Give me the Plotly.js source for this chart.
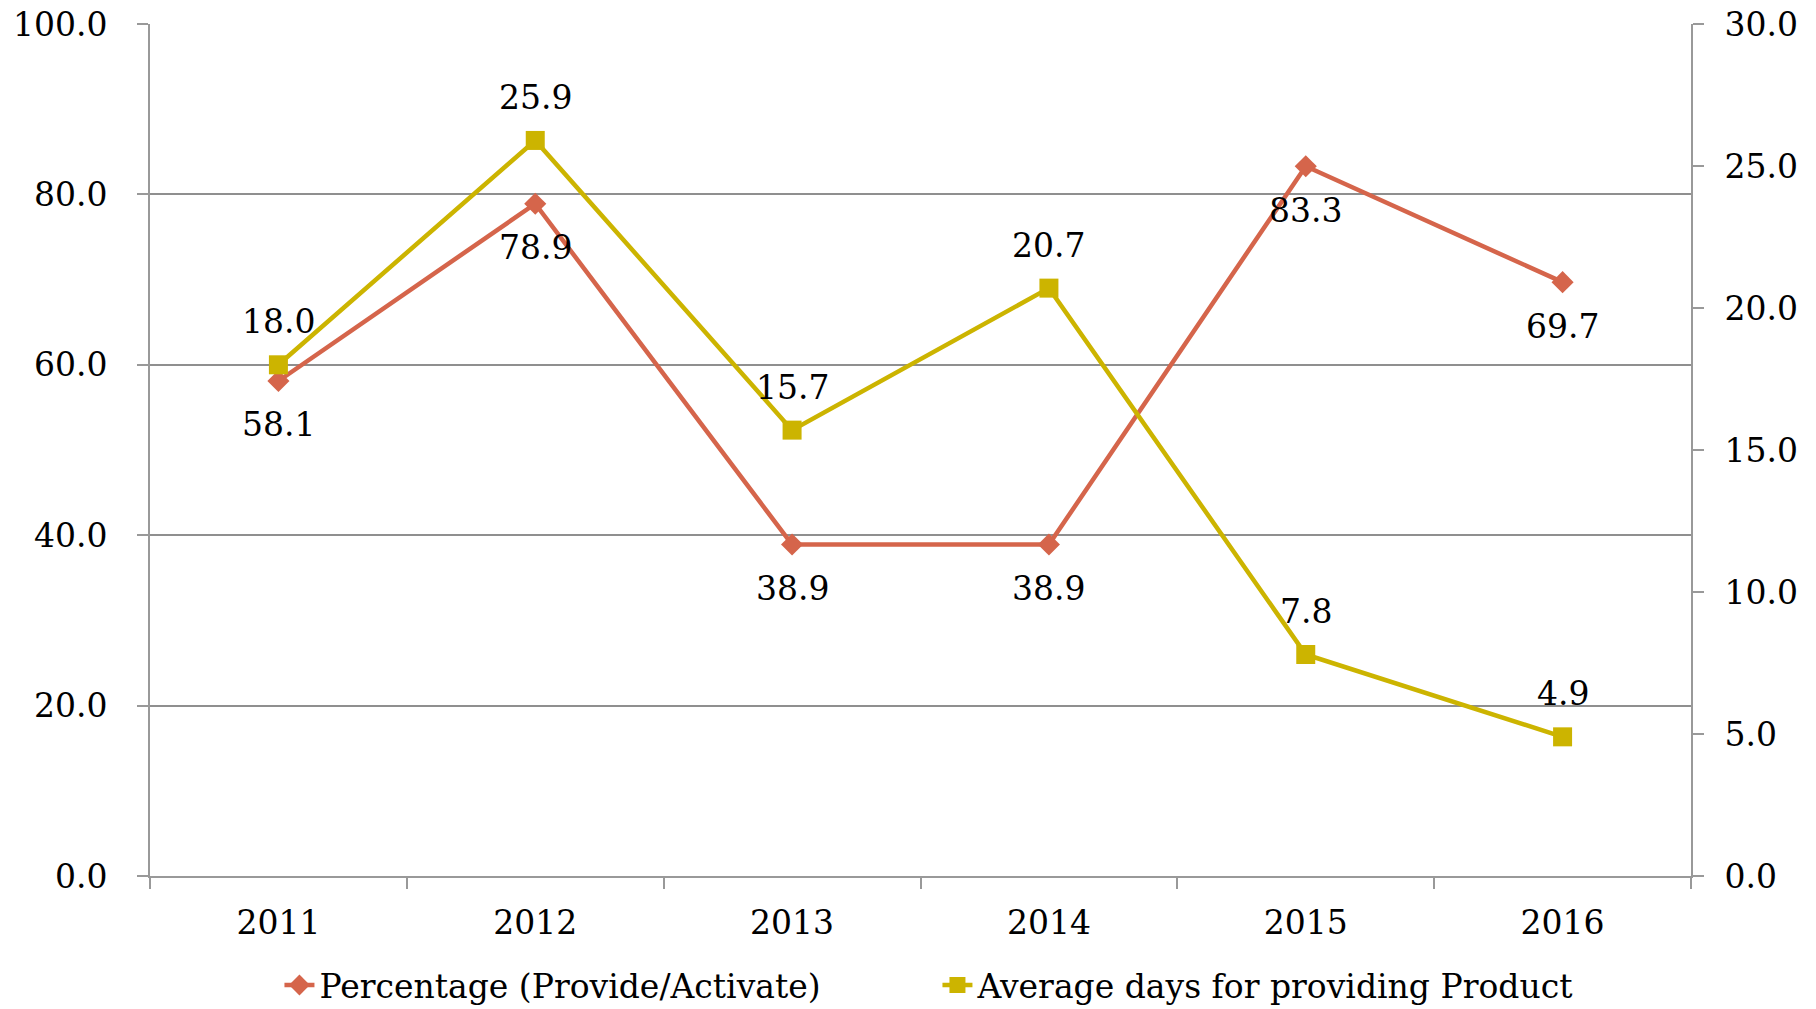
<!DOCTYPE html>
<html>
<head>
<meta charset="utf-8">
<script src="https://cdn.plot.ly/plotly-3.0.1.min.js"></script>
<style>html,body{margin:0;padding:0;background:#fff;}#chart{width:1816px;height:1009px;}</style>
</head>
<body>
<div id="chart"></div>
<script>
const years = ["2011", "2012", "2013", "2014", "2015", "2016"];
const percentage = [58.1, 78.9, 38.9, 38.9, 83.3, 69.7];
const avgDays = [18.0, 25.9, 15.7, 20.7, 7.8, 4.9];
const seriesNames = ["Percentage (Provide/Activate)", "Average days for providing Product"];

const RED = "#d5654b";
const YEL = "#ccb400";
const FONT = "DejaVu Serif";
const FS = 33;

const traces = [
  {
    x: years, y: percentage, name: seriesNames[0], type: "scatter", mode: "lines+markers",
    line: {color: RED, width: 4.5}, marker: {symbol: "diamond", size: 17, color: RED},
    yaxis: "y", cliponaxis: false
  },
  {
    x: years, y: avgDays, name: seriesNames[1], type: "scatter", mode: "lines+markers",
    line: {color: YEL, width: 4.5}, marker: {symbol: "square", size: 19, color: YEL},
    yaxis: "y2", cliponaxis: false
  }
];

const annotations = [];
years.forEach((yr, i) => {
  annotations.push({x: i, y: percentage[i], xref: "x", yref: "y", text: percentage[i].toFixed(1),
    showarrow: false, yshift: -44, font: {family: FONT, size: FS, color: "#000"}});
  annotations.push({x: i, y: avgDays[i], xref: "x", yref: "y2", text: avgDays[i].toFixed(1),
    showarrow: false, yshift: 43, font: {family: FONT, size: FS, color: "#000"}});
});

const layout = {
  width: 1816, height: 1009,
  margin: {l: 150, r: 125, t: 24, b: 133, autoexpand: false},
  paper_bgcolor: "#fff", plot_bgcolor: "#fff",
  font: {family: FONT, size: FS, color: "#000"},
  showlegend: true,
  legend: {orientation: "h", x: 0.511, xanchor: "center", y: -0.128, yanchor: "middle",
    entrywidth: 613, entrywidthmode: "pixels",
    font: {family: FONT, size: FS, color: "#000"}, bgcolor: "rgba(0,0,0,0)"},
  xaxis: {
    type: "category", range: [-0.5, 5.5], tickson: "boundaries",
    ticks: "outside", ticklen: 11, tickcolor: "#999", tickwidth: 1.5,
    showline: true, linecolor: "#999", linewidth: 2, showgrid: false, zeroline: false,
    tickfont: {family: FONT, size: FS}, ticklabelstandoff: 16
  },
  yaxis: {
    range: [0, 100], dtick: 20, tickformat: ".1f",
    ticks: "outside", ticklen: 11, tickcolor: "#999", tickwidth: 1.5,
    showline: true, linecolor: "#999", linewidth: 2,
    showgrid: true, gridcolor: "#8f8f8f", gridwidth: 1.5, zeroline: false,
    tickfont: {family: FONT, size: FS}, ticklabelstandoff: 23
  },
  yaxis2: {
    range: [0, 30], dtick: 5, tickformat: ".1f", overlaying: "y", side: "right",
    ticks: "outside", ticklen: 11, tickcolor: "#999", tickwidth: 1.5,
    showline: true, linecolor: "#999", linewidth: 2, showgrid: false, zeroline: false,
    tickfont: {family: FONT, size: FS}, ticklabelstandoff: 14
  },
  annotations: annotations
};

Plotly.newPlot("chart", traces, layout, {displayModeBar: false, responsive: false});
</script>
</body>
</html>
